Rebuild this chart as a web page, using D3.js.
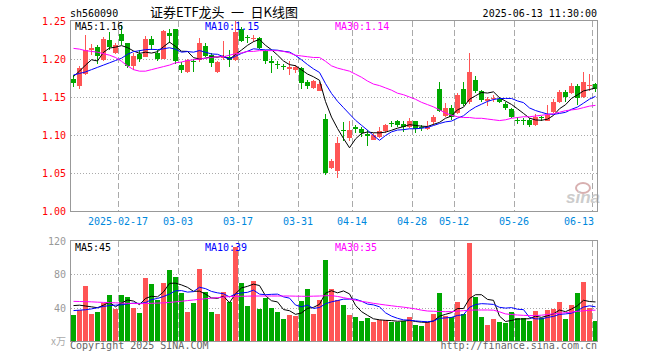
<!DOCTYPE html>
<html>
<head>
<meta charset="utf-8">
<script src="https://cdn.jsdelivr.net/npm/d3@7"></script>
<style>
  body { margin: 0; background: #fff; }
  svg { display: block; }
  .mono { font-family: "DejaVu Sans Mono", "Liberation Mono", monospace; font-size: 10px; }
</style>
</head>
<body>
<div id="chart"></div>
<script>
// daily candles, 2025-02-05 .. 2025-06-13
var open = [1.174,1.165,1.180,1.212,1.216,1.199,1.225,1.208,1.233,1.221,
    1.191,1.206,1.202,1.226,1.208,1.200,1.234,1.239,1.192,1.183,
    1.197,1.199,1.217,1.205,1.183,1.201,1.202,1.199,1.240,1.229,
    1.226,1.227,1.210,1.198,1.193,1.191,1.187,1.185,1.188,1.170,
    1.162,1.158,1.121,1.056,1.052,1.107,1.096,1.111,1.108,1.101,
    1.093,1.098,1.105,1.116,1.118,1.115,1.110,1.118,1.111,1.108,
    1.117,1.160,1.125,1.136,1.129,1.160,1.143,1.172,1.158,1.145,
    1.148,1.147,1.141,1.134,1.120,1.120,1.120,1.113,1.124,1.118,
    1.130,1.144,1.157,1.155,1.165,1.150,1.165,1.167];
var close = [1.169,1.188,1.212,1.214,1.204,1.226,1.216,1.218,1.224,1.191,
    1.204,1.200,1.226,1.218,1.200,1.237,1.230,1.198,1.186,1.199,
    1.196,1.221,1.204,1.195,1.196,1.204,1.199,1.236,1.224,1.227,
    1.228,1.214,1.197,1.195,1.192,1.189,1.190,1.190,1.168,1.164,
    1.171,1.167,1.050,1.066,1.089,1.105,1.106,1.108,1.102,1.099,
    1.100,1.105,1.113,1.114,1.113,1.110,1.118,1.108,1.109,1.111,
    1.124,1.131,1.135,1.124,1.152,1.141,1.183,1.158,1.146,1.148,
    1.149,1.144,1.136,1.124,1.119,1.119,1.113,1.124,1.122,1.126,
    1.144,1.157,1.150,1.164,1.149,1.170,1.166,1.161];
var high = [1.179,1.191,1.232,1.220,1.218,1.229,1.236,1.221,1.245,1.221,
    1.208,1.212,1.230,1.230,1.212,1.238,1.239,1.240,1.196,1.200,
    1.200,1.227,1.221,1.208,1.198,1.224,1.212,1.251,1.242,1.232,
    1.232,1.229,1.212,1.204,1.197,1.193,1.197,1.192,1.190,1.172,
    1.172,1.170,1.127,1.068,1.098,1.117,1.118,1.113,1.111,1.107,
    1.102,1.110,1.115,1.118,1.120,1.118,1.122,1.118,1.113,1.118,
    1.126,1.170,1.142,1.139,1.155,1.170,1.208,1.178,1.159,1.150,
    1.153,1.150,1.144,1.136,1.124,1.122,1.122,1.127,1.125,1.139,
    1.147,1.159,1.159,1.168,1.167,1.183,1.180,1.169];
var low = [1.163,1.160,1.179,1.205,1.193,1.198,1.212,1.207,1.218,1.188,
    1.186,1.196,1.202,1.212,1.198,1.200,1.221,1.194,1.181,1.182,
    1.183,1.196,1.202,1.190,1.182,1.199,1.190,1.198,1.222,1.221,
    1.222,1.213,1.193,1.182,1.187,1.186,1.179,1.182,1.161,1.160,
    1.161,1.158,1.048,1.055,1.043,1.092,1.092,1.102,1.098,1.085,
    1.093,1.096,1.102,1.110,1.111,1.104,1.109,1.102,1.105,1.107,
    1.113,1.130,1.124,1.120,1.127,1.138,1.141,1.155,1.143,1.138,
    1.144,1.142,1.133,1.122,1.115,1.113,1.111,1.112,1.118,1.118,
    1.129,1.142,1.144,1.154,1.140,1.149,1.158,1.157];
// volume, in 万
var volume = [30.8,36.8,65.6,32,34.4,46,54.8,38,54.8,52.4,
    39.6,33.2,75.2,68,48.8,69.2,84.8,76.4,57.2,34.4,
    45.2,86,58.4,34.4,32,58.4,46.4,112.4,69.2,41.6,
    71.6,38,51.2,39.2,34.4,26,30.8,29.6,47.6,62,
    32,48.8,96.8,62,49.5,43.2,31.2,28.4,24,27.2,
    22.4,25.2,25.2,22.4,23.2,24,28.4,19.2,18,22.4,
    32,57.2,30.4,28.4,46.8,32,117.2,53.2,28.4,18.8,
    26.4,22.4,21.2,34.4,27.2,27.2,24,36,27.2,37.2,
    38.4,46.8,26.4,43.2,57.2,70.8,39.2,24];

// moving averages: first points come from days before the window
var priceMa5Head = [1.177, 1.184, 1.192, 1.199];
var priceMa10Head = [1.179, 1.181, 1.183, 1.186, 1.189, 1.192, 1.195, 1.198, 1.201];
var priceMa30 = [1.214,1.213,1.211,1.210,1.209,1.207,1.205,1.202,1.197,1.191,
    1.186,1.184,1.184,1.186,1.188,1.190,1.192,1.195,1.196,1.198,
    1.199,1.200,1.201,1.202,1.203,1.203,1.205,1.207,1.208,1.210,
    1.210,1.211,1.211,1.211,1.211,1.210,1.208,1.205,1.204,1.203,
    1.202,1.202,1.197,1.191,1.188,1.186,1.184,1.180,1.176,1.171,
    1.167,1.165,1.162,1.159,1.155,1.153,1.150,1.147,1.143,1.140,
    1.137,1.133,1.129,1.126,1.124,1.123,1.123,1.122,1.122,1.121,
    1.120,1.119,1.120,1.122,1.123,1.124,1.124,1.125,1.126,1.127,
    1.128,1.130,1.132,1.133,1.134,1.136,1.138,1.139];
var volMa5Head = [42.5, 43, 42, 41];
var volMa10Head = [36.5, 37, 37.5, 38.5, 40, 41.5, 42.5, 43, 43.5];
var volMa30 = [47.6,47.4,47.2,47,46.6,46.3,46,45.8,45.5,45.2,
    45,44.8,45,45.2,45.5,45.8,46.3,47,47.7,48.5,
    49.2,50,50.7,51.4,52,52.7,53.3,53.6,53.7,53.8,
    54,54,54,54,54,54,54,53.8,53.7,53.6,
    53.8,54,54.3,54.4,53.5,52,50.6,49,47.5,46.5,
    45.2,44.2,43.2,42.3,41.4,40.6,39.6,38.5,37,36,
    35.7,35.4,35.2,35.3,35.8,36.4,37,37.2,37.2,37.2,
    37,35,32.5,31.8,31.2,30.8,30.5,30.5,31,31.8,
    32.6,33.2,34,34.8,35.6,36.2,36.8,37];

var tickIndex = [8, 18, 28, 38, 47, 57, 64, 74, 87];
var tickLabels = ["2025-02-17", "03-03", "03-17", "03-31", "04-14", "04-28", "05-12", "05-26", "06-13"];
var priceTicks = [1.00, 1.05, 1.10, 1.15, 1.20, 1.25];
var volTicks = [40, 80, 120];
var priceLegend = ["MA5:1.16", "MA10:1.15", "MA30:1.14"];
var volLegend = ["MA5:45", "MA10:39", "MA30:35"];

var RED = "#ff5555", GREEN = "#00a800", GRID = "#aaaaaa", BORDER = "#999999";
var maColors = ["#000000", "#0000ff", "#ff00ff"];

var svg = d3.select("#chart").append("svg").attr("width", 660).attr("height", 360);

var idx = d3.range(open.length);
var x = d3.scaleBand().domain(idx).range([70, 598]);
var yP = d3.scaleLinear().domain([1.0, 1.25]).range([211, 21]);
var yV = d3.scaleLinear().domain([0, 120]).range([341, 241]);

function movingAverage(values, n, head) {
    return values.map(function(v, i) {
        if (i < n - 1) return head[i];
        return d3.mean(values.slice(i - n + 1, i + 1));
    });
}
function isUp(i) { return close[i] >= open[i]; }
function cx(i) { return x(i) + 3.5; }

// header texts
svg.append("text").classed("mono", true).attr("x", 70).attr("y", 17).text("sh560090");
svg.append("text")
    .attr("x", 150).attr("y", 17)
    .style("font-family", "'Noto Sans CJK SC', sans-serif")
    .style("font-size", "13px")
    .text("证券ETF龙头\u2002一\u2002日K线图");
svg.append("text").classed("mono", true)
    .attr("x", 597).attr("y", 17).attr("text-anchor", "end")
    .text("2025-06-13 11:30:00");

// grids
var grid = svg.append("g");
grid.selectAll(".hp").data([1.05, 1.10, 1.15, 1.20]).join("line")
    .attr("x1", 71).attr("x2", 597)
    .attr("y1", function(d) { return Math.round(yP(d)) + 0.5; })
    .attr("y2", function(d) { return Math.round(yP(d)) + 0.5; })
    .attr("stroke", GRID).attr("stroke-dasharray", "1,2");
grid.selectAll(".hv").data([40, 80]).join("line")
    .attr("x1", 71).attr("x2", 597)
    .attr("y1", function(d) { return Math.round(yV(d)) + 0.5; })
    .attr("y2", function(d) { return Math.round(yV(d)) + 0.5; })
    .attr("stroke", GRID).attr("stroke-dasharray", "1,2");
[[21, 211], [241, 341]].forEach(function(r) {
    grid.append("g").selectAll("line").data(tickIndex).join("line")
        .attr("x1", function(i) { return x(i) + 0.5; })
        .attr("x2", function(i) { return x(i) + 0.5; })
        .attr("y1", r[0]).attr("y2", r[1])
        .attr("stroke", GRID).attr("stroke-dasharray", "6,3");
});

// axis labels
svg.append("g").selectAll("text").data(priceTicks).join("text")
    .classed("mono", true)
    .attr("x", 66).attr("y", function(d) { return yP(d) + 4; })
    .attr("text-anchor", "end").attr("fill", "#ff0000")
    .text(function(d) { return d.toFixed(2); });
svg.append("g").selectAll("text").data(volTicks).join("text")
    .classed("mono", true)
    .attr("x", 66).attr("y", function(d) { return yV(d) + 4; })
    .attr("text-anchor", "end").attr("fill", "#999999")
    .text(function(d) { return d; });
svg.append("text").attr("x", 66).attr("y", 345).attr("text-anchor", "end")
    .attr("fill", "#aaaaaa").style("font-size", "10px")
    .style("font-family", "'Noto Sans CJK SC', sans-serif")
    .text("x万");
svg.append("g").selectAll("text").data(tickIndex).join("text")
    .classed("mono", true)
    .attr("x", function(i, k) { return k === tickIndex.length - 1 ? x(i) + 2 : x(i); })
    .attr("y", 225)
    .attr("text-anchor", function(i, k) { return k === tickIndex.length - 1 ? "end" : "middle"; })
    .attr("fill", "#0088dd")
    .text(function(i, k) { return tickLabels[k]; });

// watermark
var wm = svg.append("g").attr("fill", "#cccccc");
wm.append("ellipse").attr("cx", 583).attr("cy", 188).attr("rx", 7).attr("ry", 5)
    .attr("fill", "none").attr("stroke", "#d8b0b0").attr("stroke-width", 2);
wm.append("text").attr("x", 566).attr("y", 203)
    .style("font-family", "'Liberation Sans', sans-serif")
    .style("font-size", "17px").style("font-weight", "bold").style("font-style", "italic")
    .text("sina");

// clip
svg.append("clipPath").attr("id", "clipP").append("rect")
    .attr("x", 71).attr("y", 21).attr("width", 526).attr("height", 190);
svg.append("clipPath").attr("id", "clipV").append("rect")
    .attr("x", 71).attr("y", 241).attr("width", 526).attr("height", 100);

// candles
var candles = svg.append("g").attr("clip-path", "url(#clipP)");
candles.selectAll("line").data(idx).join("line")
    .attr("x1", cx).attr("x2", cx)
    .attr("y1", function(i) { return Math.round(yP(high[i])); })
    .attr("y2", function(i) { return Math.round(yP(low[i])); })
    .attr("stroke", function(i) { return isUp(i) ? RED : GREEN; });
candles.selectAll("rect").data(idx).join("rect")
    .attr("x", function(i) { return x(i) + 1; })
    .attr("width", 5)
    .attr("y", function(i) { return Math.round(yP(Math.max(open[i], close[i]))); })
    .attr("height", function(i) {
        return Math.max(1, Math.round(yP(Math.min(open[i], close[i]))) - Math.round(yP(Math.max(open[i], close[i]))));
    })
    .attr("fill", function(i) { return isUp(i) ? RED : GREEN; });

// volume bars
var bars = svg.append("g").attr("clip-path", "url(#clipV)");
bars.selectAll("rect").data(idx).join("rect")
    .attr("x", function(i) { return x(i) + 1; })
    .attr("width", 5)
    .attr("y", function(i) { return Math.round(yV(volume[i])); })
    .attr("height", function(i) { return 341 - Math.round(yV(volume[i])); })
    .attr("fill", function(i) { return isUp(i) ? RED : GREEN; });

// moving average lines
var priceMas = [movingAverage(close, 5, priceMa5Head), movingAverage(close, 10, priceMa10Head), priceMa30];
var volMas = [movingAverage(volume, 5, volMa5Head), movingAverage(volume, 10, volMa10Head), volMa30];

function drawLines(series, y, clip) {
    var g = svg.append("g").attr("clip-path", clip);
    series.forEach(function(s, k) {
        var line = d3.line().x(function(d, i) { return cx(i); }).y(function(d) { return y(d); });
        g.append("path").datum(s).attr("d", line)
            .attr("fill", "none").attr("stroke", maColors[k]).attr("stroke-width", 1);
    });
}
drawLines(priceMas, yP, "url(#clipP)");
drawLines(volMas, yV, "url(#clipV)");

// legends
var legendX = [75, 205, 335];
svg.append("g").selectAll("text").data(priceLegend).join("text")
    .classed("mono", true)
    .attr("x", function(d, k) { return legendX[k]; }).attr("y", 30)
    .attr("fill", function(d, k) { return maColors[k]; })
    .text(function(d) { return d; });
svg.append("g").selectAll("text").data(volLegend).join("text")
    .classed("mono", true)
    .attr("x", function(d, k) { return legendX[k]; }).attr("y", 251)
    .attr("fill", function(d, k) { return maColors[k]; })
    .text(function(d) { return d; });

// panel borders
svg.append("rect").attr("x", 70.5).attr("y", 20.5).attr("width", 527).attr("height", 191)
    .attr("fill", "none").attr("stroke", BORDER);
svg.append("rect").attr("x", 70.5).attr("y", 240.5).attr("width", 527).attr("height", 101)
    .attr("fill", "none").attr("stroke", BORDER);

// footer
svg.append("text").classed("mono", true).attr("x", 70).attr("y", 349)
    .attr("fill", "#666666").text("Copyright 2025 SINA.COM");
svg.append("text").classed("mono", true).attr("x", 597).attr("y", 349)
    .attr("text-anchor", "end").attr("fill", "#666666").text("http://finance.sina.com.cn");
</script>
</body>
</html>
